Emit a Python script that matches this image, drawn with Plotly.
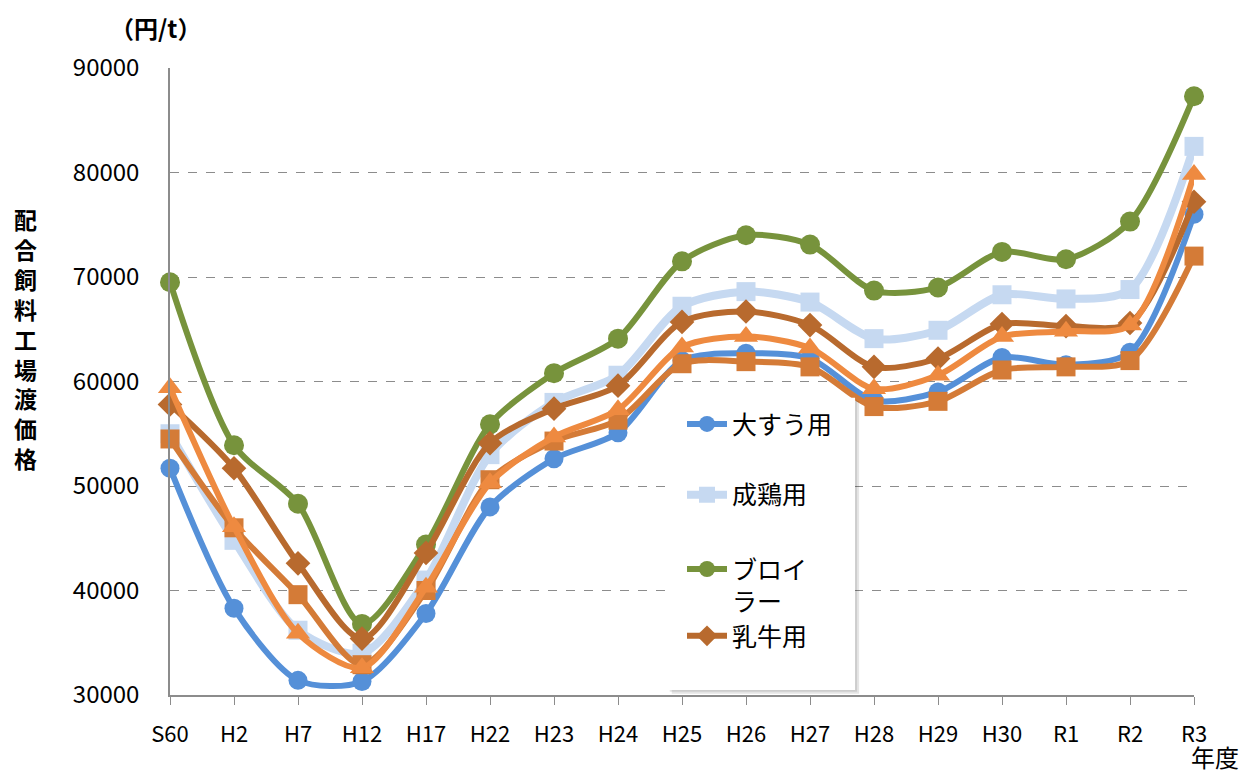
import plotly.graph_objects as go

categories = ["S60", "H2", "H7", "H12", "H17", "H22", "H23", "H24", "H25",
              "H26", "H27", "H28", "H29", "H30", "R1", "R2", "R3"]

taisu = [51700, 38300, 31400, 31300, 37800, 48000, 52600, 55100, 62000,
         62700, 62200, 58200, 59000, 62300, 61600, 62800, 76000]
seikei = [55000, 44800, 36200, 34000, 41000, 53000, 58000, 60600, 67200,
          68600, 67600, 64100, 64900, 68300, 67900, 68800, 82500]
broiler = [69500, 53900, 48300, 36800, 44400, 55900, 60800, 64100, 71500,
           74000, 73100, 68700, 69000, 72400, 71700, 75300, 87300]
youton = [54500, 46000, 39600, 32900, 40000, 50600, 54300, 56300, 61700,
          61900, 61400, 57600, 58100, 61100, 61400, 62000, 72000]
nyugyu = [57800, 51700, 42600, 35400, 43600, 54100, 57400, 59600, 65700,
          66700, 65400, 61400, 62200, 65500, 65300, 65600, 77200]
nikugyu = [59400, 46100, 35900, 32600, 40300, 50300, 54700, 57300, 63300,
           64300, 63200, 59300, 60600, 64300, 64800, 65400, 79800]

y_ticks = [30000, 40000, 50000, 60000, 70000, 80000, 90000]

FONT = "Noto Sans CJK JP"

series = [
    # name, values, color, symbol, size, width, legend id (None = hidden)
    ("大すう用", taisu, "#5590D8", "circle", 19, 6, "legend"),
    ("成鶏用", seikei, "#C6D9F1", "square", 19, 8, "legend2"),
    ("ブロイ<br>ラー", broiler, "#77933C", "circle", 20, 6, "legend3"),
    ("養豚用", youton, "#D47B37", "square", 19, 6, None),
    ("乳牛用", nyugyu, "#B86A2E", "diamond", 19, 6, "legend4"),
    ("肉牛用", nikugyu, "#EE8A40", "triangle-up", 21, 6, None),
]

fig = go.Figure()
for name, vals, color, sym, size, width, leg in series:
    fig.add_trace(go.Scatter(
        x=categories, y=vals, name=name, mode="lines+markers",
        line=dict(color=color, width=width, shape="spline", smoothing=0.8),
        marker=dict(color=color, symbol=sym, size=size, line=dict(width=0)),
        showlegend=leg is not None, legend=leg or "legend",
        cliponaxis=False,
    ))

# legend background with a soft shadow
fig.add_shape(type="rect", xref="paper", yref="paper",
              x0=0.490, x1=0.673, y0=0.002, y1=0.469,
              fillcolor="rgba(0,0,0,0.10)", line=dict(width=0), layer="above")
fig.add_shape(type="rect", xref="paper", yref="paper",
              x0=0.488, x1=0.671, y0=0.005, y1=0.471,
              fillcolor="rgba(0,0,0,0.10)", line=dict(width=0), layer="above")
fig.add_shape(type="rect", xref="paper", yref="paper",
              x0=0.486, x1=0.669, y0=0.008, y1=0.474,
              fillcolor="white", line=dict(width=0), layer="above")

leg_common = dict(x=0.5, xanchor="left", yanchor="middle",
                  bgcolor="rgba(0,0,0,0)", borderwidth=0, valign="top",
                  itemwidth=40,
                  font=dict(family=FONT, size=25, color="black"))

fig.update_layout(
    width=1250, height=775,
    margin=dict(l=162, r=64, t=60, b=88),
    paper_bgcolor="white", plot_bgcolor="white",
    font=dict(family=FONT, size=18, color="black"),
    showlegend=True,
    legend=dict(y=0.432, **leg_common),
    legend2=dict(y=0.319, **leg_common),
    legend3=dict(y=0.175, **leg_common),
    legend4=dict(y=0.094, **leg_common),
    xaxis=dict(
        range=[0, 16], showgrid=False, zeroline=False,
        showline=True, linecolor="#8C8C8C", linewidth=1.5,
        ticks="outside", ticklen=8, tickcolor="#8C8C8C",
        tickfont=dict(family=FONT, size=22, color="black"),
        ticklabelstandoff=11,
    ),
    yaxis=dict(
        range=[30000, 90000], tickvals=y_ticks,
        ticktext=[str(v) for v in y_ticks],
        showgrid=True, gridcolor="#8C8C8C", griddash="dash", gridwidth=1.2,
        zeroline=False, showline=True, linecolor="#8C8C8C", linewidth=1.5,
        ticks="", tickfont=dict(family=FONT, size=24, color="black"),
        ticklabelstandoff=24,
    ),
)

fig.add_annotation(text="<b>（円/t）</b>", xref="paper", yref="paper",
                   x=-0.0146, y=1.065, xanchor="center", yanchor="middle",
                   showarrow=False, font=dict(family=FONT, size=24))
fig.add_annotation(text="<b>" + "<br>".join("配合飼料工場渡価格") + "</b>",
                   xref="paper", yref="paper", x=-0.1416, y=0.569,
                   xanchor="center", yanchor="middle", showarrow=False,
                   align="center",
                   font=dict(family=FONT, size=23))
fig.add_annotation(text="年度", xref="paper", yref="paper",
                   x=0.995, y=-0.098, xanchor="left", yanchor="middle",
                   showarrow=False, font=dict(family=FONT, size=24))

fig.write_html("out.html")
